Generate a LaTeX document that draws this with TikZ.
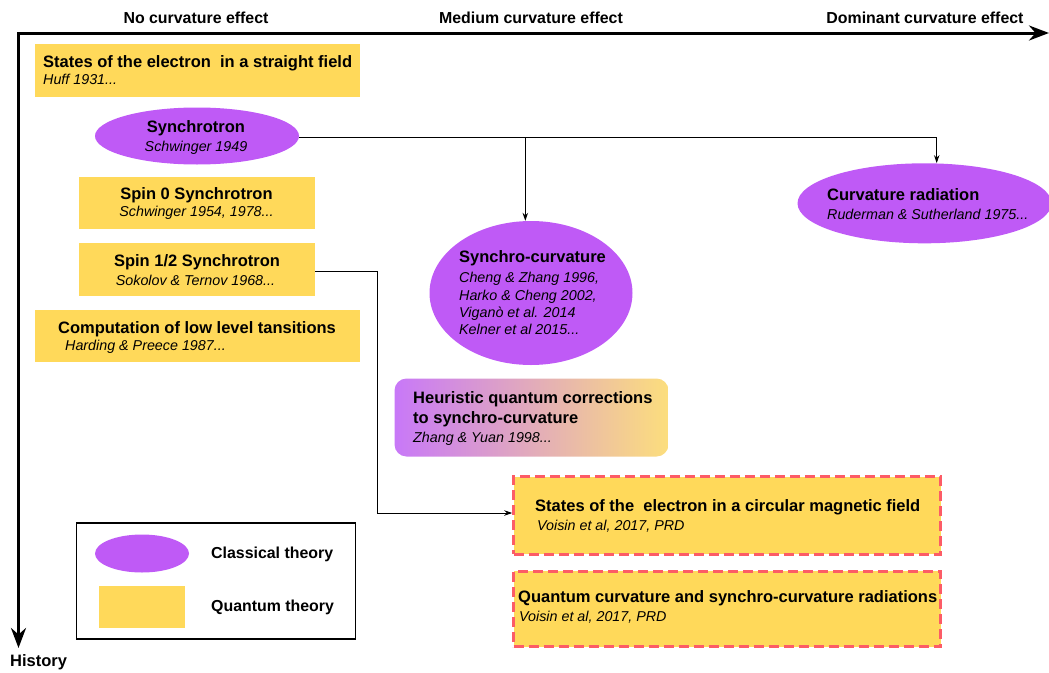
\documentclass[tikz,border=0pt]{standalone}
\usepackage{fontspec}
\setmainfont{Liberation Sans}
\usetikzlibrary{arrows.meta,shapes.geometric}
\definecolor{cpurple}{RGB}{191,90,246}
\definecolor{cyellow}{RGB}{255,217,90}
\definecolor{cdash}{RGB}{252,92,102}
\definecolor{gleft}{RGB}{200,120,248}
\definecolor{gright}{RGB}{252,222,125}
\tikzset{
  x=1pt,y=-1pt,
  qbox/.style={fill=cyellow,draw=none,inner sep=0pt},
  cell/.style={ellipse,fill=cpurple,draw=none,inner sep=0pt},
  newbox/.style={fill=cyellow,draw=cdash,line width=2.6pt,dash pattern=on 10pt off 5pt,inner sep=0pt},
  bt/.style={anchor=base west,inner sep=0pt,font=\fontsize{16.5}{19}\selectfont\bfseries},
  btc/.style={anchor=base,inner sep=0pt,font=\fontsize{16.5}{19}\selectfont\bfseries},
  it/.style={anchor=base west,inner sep=0pt,font=\fontsize{14.3}{17}\selectfont\itshape},
  itc/.style={anchor=base,inner sep=0pt,font=\fontsize{14.3}{17}\selectfont\itshape},
  hdr/.style={anchor=base,inner sep=0pt,font=\fontsize{15.9}{18}\selectfont\bfseries},
  axis/.style={line width=3pt,{Stealth[length=20pt,width=15pt]}-{Stealth[length=20pt,width=15pt]}},
  conn/.style={line width=0.9pt,-{Stealth[length=8pt,width=5.5pt]}},
}
\begin{document}
\begin{tikzpicture}
\useasboundingbox (0,0) rectangle (1049,672);
% axes
\coordinate (ytip) at (18.5,648);
\coordinate (corner) at (18.5,33);
\coordinate (xtip) at (1049,33);
\draw[axis] (ytip) -- (corner) -- (xtip);
\node[hdr] (h1) at (196,23) {No curvature effect};
\node[hdr] (h2) at (531,23) {Medium curvature effect};
\node[hdr] (h3) at (925,23) {Dominant curvature effect};
\node[anchor=base west,inner sep=0pt,font=\fontsize{16.5}{19}\selectfont\bfseries] (hist) at (10,666) {History};

% box 1
\node[qbox,minimum width=325pt,minimum height=53pt] (b1) at (197.5,70.5) {};
\node[bt] (b1t) at (43,67) {States of the electron\ \ in a straight field};
\node[it] (b1a) at (43,84.5) {Huff 1931...};

% synchrotron
\node[cell,minimum width=204pt,minimum height=57pt] (sy) at (197,136) {};
\node[btc] (syt) at (196,132.5) {Synchrotron};
\node[itc] (sya) at (196,151) {Schwinger 1949};

% spin 0
\node[qbox,minimum width=236pt,minimum height=52pt] (s0) at (197,203.3) {};
\node[btc] (s0t) at (196.5,199.3) {Spin 0 Synchrotron};
\node[itc] (s0a) at (196.5,216.7) {Schwinger 1954, 1978...};

% spin 1/2
\node[qbox,minimum width=236pt,minimum height=52.4pt] (s1) at (197,269.5) {};
\node[btc] (s1t) at (197,266.7) {Spin 1/2 Synchrotron};
\node[itc] (s1a) at (195.5,285) {Sokolov \& Ternov 1968...};

% computation
\node[qbox,minimum width=325pt,minimum height=52pt] (cp) at (197.5,336) {};
\node[btc] (cpt) at (197,333) {Computation of low level tansitions};
\node[it] (cpa) at (65,350.5) {Harding \& Preece 1987...};

% synchro-curvature
\node[cell,minimum width=203pt,minimum height=144pt] (sc) at (531,293) {};
\node[bt] (sct) at (459,262.7) {Synchro-curvature};
\node[it] (sc1) at (459,282.3) {Cheng \& Zhang 1996,};
\node[it] (sc2) at (459,300) {Harko \& Cheng 2002,};
\node[it] (sc3) at (459,317) {Viganò et al. 2014};
\node[it] (sc4) at (459,334.5) {Kelner et al 2015...};

% curvature radiation
\node[cell,minimum width=254pt,minimum height=80pt] (cr) at (924.5,203.3) {};
\node[bt] (crt) at (827,200) {Curvature radiation};
\node[it] (cra) at (827,219) {Ruderman \& Sutherland 1975...};

% heuristic
\node[rounded corners=12pt,left color=gleft,right color=gright,draw=none,inner sep=0pt,minimum width=274pt,minimum height=78pt] (hq) at (531.5,417.5) {};
\node[bt] (hq1) at (413,403.5) {Heuristic quantum corrections};
\node[bt] (hq2) at (413,423) {to synchro-curvature};
\node[it] (hqa) at (413,442.5) {Zhang \& Yuan 1998...};

% new boxes
\node[newbox,minimum width=427pt,minimum height=77.5pt] (n1) at (727,515.5) {};
\node[bt] (n1t) at (535,511.5) {States of the\ \ electron in a circular magnetic field};
\node[it] (n1a) at (537,530.5) {Voisin et al, 2017, PRD};
\node[newbox,minimum width=427pt,minimum height=75.5pt] (n2) at (727,609) {};
\node[bt] (n2t) at (518,602.3) {Quantum curvature and synchro-curvature radiations};
\node[it] (n2a) at (519,621.7) {Voisin et al, 2017, PRD};

% connectors
\coordinate (j1) at (525.3,137.3);
\coordinate (j2) at (936.7,137.3);
\draw[line width=0.9pt] (sy.east |- j1) -- (j2);
\draw[conn] (j2) -- (j2 |- cr.north);
\draw[conn] (j1) -- (j1 |- sc.north);
\coordinate (k1) at (377.3,271.5);
\coordinate (k2) at (377.3,513);
\draw[conn] (s1.east |- k1) -- (k1) -- (k2) -- (n1.west |- k2);

% legend
\node[draw=black,line width=1.8pt,inner sep=0pt,minimum width=279pt,minimum height=116pt] (lg) at (216,581) {};
\node[cell,minimum width=94pt,minimum height=38pt] (lge) at (142,553.5) {};
\node[qbox,minimum width=86pt,minimum height=42pt] (lgr) at (142,607) {};
\node[anchor=base west,inner sep=0pt,font=\fontsize{15.9}{18}\selectfont\bfseries] (lg1) at (211,558.3) {Classical theory};
\node[anchor=base west,inner sep=0pt,font=\fontsize{15.9}{18}\selectfont\bfseries] (lg2) at (211,611) {Quantum theory};
\end{tikzpicture}
\end{document}
